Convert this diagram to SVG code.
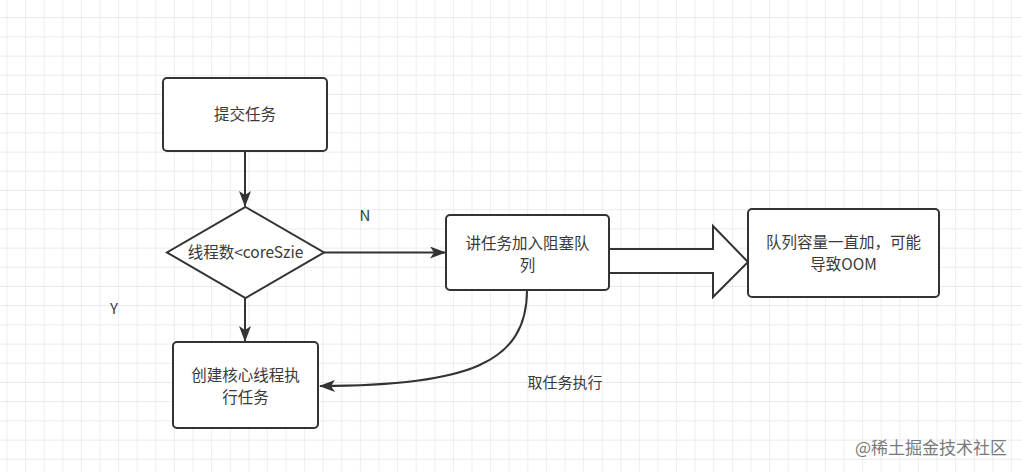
<svg xmlns="http://www.w3.org/2000/svg" width="1022" height="472" viewBox="0 0 1022 472">
<defs>
<pattern id="grid" x="6.5" y="-2" width="18.6" height="19.2" patternUnits="userSpaceOnUse">
<path d="M0,0 V19.2 M0,0 H18.6" fill="none" stroke="#e4e4e4" stroke-width="1.2"/>
</pattern>
<marker id="ah" viewBox="0 0 16 12" refX="15" refY="6" markerWidth="16" markerHeight="12" markerUnits="userSpaceOnUse" orient="auto">
<path d="M0,0 L16,6 L0,12 L4,6 Z" fill="#333"/>
</marker>
<style>
.box{fill:#fff;stroke:#333;stroke-width:2}
.t{font-family:"Noto Sans CJK SC","Noto Sans",sans-serif;font-size:15.5px;fill:#3a3a3a;text-anchor:middle}
.lbl{font-family:"Noto Sans CJK SC","Noto Sans",sans-serif;font-size:15px;fill:#3a3a3a;text-anchor:middle}
.c{fill:none;stroke:#333;stroke-width:2}
</style>
</defs>
<rect width="1022" height="472" fill="#fff"/>
<rect width="1022" height="472" fill="url(#grid)"/>

<g id="connectors">
<path class="c" d="M245,151 V206" marker-end="url(#ah)"/>
<path class="c" d="M324,252.5 H445" marker-end="url(#ah)"/>
<path class="c" d="M245,298 V341" marker-end="url(#ah)"/>
<path class="c" d="M527,290 C527,362 470,386 320,386" marker-end="url(#ah)"/>
<path class="box" d="M609,249 H713 V226 L748,262 L713,297 V273 H609 Z"/>
</g>

<g id="n1">
<rect class="box" x="163" y="78" width="164" height="73" rx="4"/>
<text class="t" x="245" y="120">提交任务</text>
</g>
<g id="n2">
<path class="box" d="M245.5,207 L324,252.5 L245.5,298 L167,252.5 Z"/>
<text class="t" x="245.5" y="258">线程数&lt;coreSzie</text>
</g>
<g id="n3">
<rect class="box" x="446" y="215" width="163" height="75" rx="4"/>
<text class="t" x="527.5" y="249">讲任务加入阻塞队</text>
<text class="t" x="527.5" y="271">列</text>
</g>
<g id="n4">
<rect class="box" x="748" y="209" width="191" height="88" rx="4"/>
<text class="t" x="843.5" y="248">队列容量一直加，可能</text>
<text class="t" x="843.5" y="270">导致OOM</text>
</g>
<g id="n5">
<rect class="box" x="173" y="342" width="145" height="86" rx="4"/>
<text class="t" x="245.5" y="381">创建核心线程执</text>
<text class="t" x="245.5" y="403">行任务</text>
</g>

<g id="labels">
<text class="lbl" x="365" y="221">N</text>
<text class="lbl" x="114" y="314">Y</text>
<text class="lbl" x="565" y="388">取任务执行</text>
<text x="1007" y="454" style="font-family:'Noto Sans CJK SC',sans-serif;font-size:17px;fill:#7a7a7a;text-anchor:end">@稀土掘金技术社区</text>
</g>
</svg>
